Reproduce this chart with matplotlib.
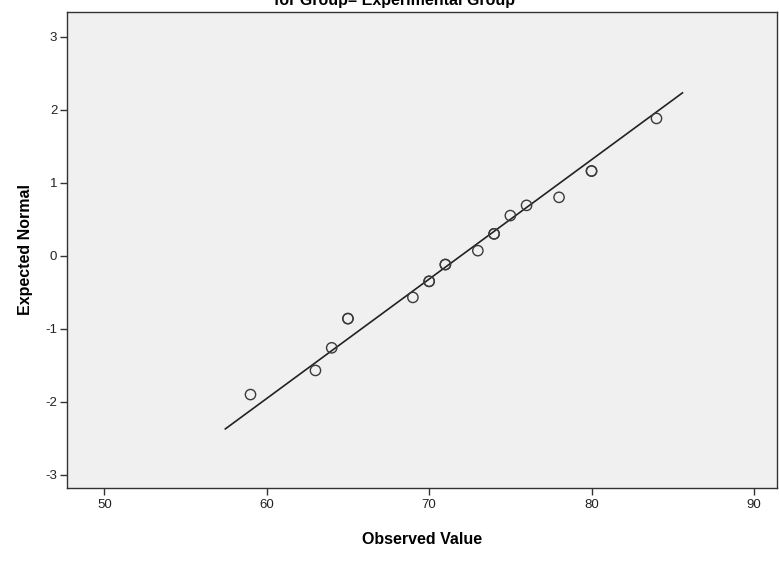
import matplotlib
matplotlib.use('Agg')
from matplotlib import pyplot as plt

# observed values (ties repeated, they show up as darker circles)
observed = [59, 63, 64, 65, 65, 69, 70, 70, 71, 71, 73, 74, 74, 75, 76, 78, 80, 80, 84]
expected = [-1.90, -1.57, -1.26, -0.86, -0.86, -0.57, -0.35, -0.35, -0.12, -0.12,
            0.07, 0.30, 0.30, 0.55, 0.69, 0.80, 1.16, 1.16, 1.88]

# reference line end points
line_x = [57.45, 85.6]
line_y = [-2.37, 2.23]

xticks = [50, 60, 70, 80, 90]
yticks = [-3, -2, -1, 0, 1, 2, 3]

plt.rcParams['font.family'] = ['Liberation Sans', 'DejaVu Sans']
plt.rcParams['axes.unicode_minus'] = False

fig = plt.figure(figsize=(7.79, 5.61), dpi=100)
ax = fig.add_axes([0.086, 0.130, 0.911, 0.849])
ax.set_facecolor('#f0f0f0')

ax.plot(line_x, line_y, color='#222222', linewidth=1.2, zorder=2)
ax.scatter(observed, expected, s=55, facecolors='none', edgecolors='#3a3a3a',
           linewidths=1.0, zorder=3)

ax.set_xlim(47.7, 91.4)
ax.set_ylim(-3.18, 3.34)
ax.set_xticks(xticks)
ax.set_yticks(yticks)
ax.tick_params(direction='out', length=5, width=1, color='#333333',
               labelsize=9.5, labelcolor='#222222', pad=3)
ax.tick_params(axis='y', pad=2)
for side in ['top', 'right', 'bottom', 'left']:
    ax.spines[side].set_color('#333333')
    ax.spines[side].set_linewidth(1.0)

ax.set_xlabel('Observed Value', fontsize=11.5, fontweight='bold', labelpad=15)
ax.set_ylabel('Expected Normal', fontsize=11.5, fontweight='bold', labelpad=9)

# title, cut off at the top edge like in the source
fig.text(0.507, 1 - 5 / 561, 'for Group= Experimental Group', ha='center',
         va='baseline', fontsize=11.5, fontweight='bold')

fig.savefig('out.png', dpi=100)
